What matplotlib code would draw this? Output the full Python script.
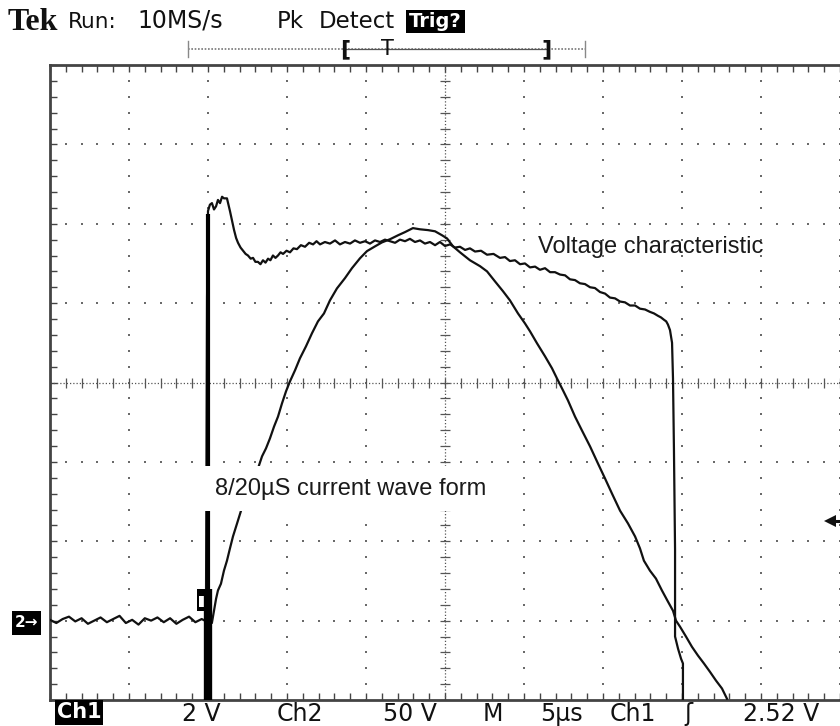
import matplotlib
matplotlib.use('Agg')
import matplotlib.pyplot as plt
import matplotlib.transforms as mtransforms
from matplotlib.patches import Rectangle
from matplotlib.lines import Line2D
import numpy as np

# scope settings: 5 us/div over 10 div, Ch1 2 V/div, Ch2 50 V/div,
# both grounds 3 div below centre
t_lim = (-25.0, 25.0)
ch1_lim = (-2.0, 14.0)
ch2_lim = (-50.0, 350.0)
trig_level = 2.52

# Ch2 - voltage characteristic (V)
volt_t = [-25.0, -24.6, -24.2, -23.8, -23.4, -23.0, -22.6, -22.2, -21.8, -21.4,
          -21.0, -20.6, -20.2, -19.8, -19.4, -19.0, -18.6, -18.2, -17.8, -17.4,
          -17.0, -16.6, -16.2, -15.8, -15.4, -15.2, -15.13, -15.06,
          -15.00, -14.88, -14.75, -14.62, -14.49, -14.37, -14.24, -14.11, -13.99, -13.80,
          -13.61, -13.48, -13.35, -13.22, -13.10, -12.94, -12.78, -12.62, -12.47, -12.30,
          -12.15, -12.00, -11.84, -11.68, -11.52, -11.36, -11.20, -11.05, -10.89, -10.73,
          -10.57, -10.41, -10.25, -10.03, -9.81, -9.59, -9.37, -9.12, -8.86, -8.60,
          -8.35, -8.13, -7.91, -7.60, -7.28, -6.96, -6.65, -6.33, -6.01, -5.70,
          -5.38, -5.06, -4.75, -4.43, -4.11, -3.80, -3.48, -3.16, -2.85, -2.53,
          -2.22, -1.90, -1.58, -1.27, -0.95, -0.63, -0.32, 0.00, 0.32, 0.63,
          0.95, 1.27, 1.58, 1.90, 2.28, 2.66, 3.07, 3.48, 3.80, 4.11,
          4.43, 4.75, 5.06, 5.38, 5.70, 6.01, 6.33, 6.65, 6.96, 7.28,
          7.60, 7.91, 8.23, 8.54, 8.86, 9.18, 9.49, 9.81, 10.13, 10.44,
          10.76, 11.08, 11.39, 11.71, 12.03, 12.34, 12.66, 12.97, 13.23, 13.48,
          13.67, 13.86, 14.00, 14.11, 14.24, 14.37, 14.43, 14.49, 14.56, 14.56,
          14.75, 14.94, 15.06, 15.06]
volt_v = [0.5, -1.5, 1.0, 2.5, -0.5, 1.5, -2.0, 0.0, 2.0, -1.0,
          1.0, 3.0, -1.5, 0.5, -2.5, 1.5, 0.0, 2.0, -1.0, 1.5,
          -2.0, 0.5, 2.5, -1.0, 1.0, 0.0, 0.0, 203,
          258, 262, 263, 259, 261, 265, 263, 267, 266, 266,
          258, 252, 246, 241, 238, 235, 233, 231, 230, 228,
          228.5, 226, 226, 224.5, 227, 225.5, 228, 227, 230, 228.5,
          230, 232, 231, 233, 232, 234.5, 234, 236.5, 235.5, 238,
          237, 239, 237, 238.5, 237.5, 239.5, 237, 238.5, 237.5, 239.5,
          238, 239, 237.5, 239.5, 238.5, 240, 239, 238, 240, 239,
          240.5, 238.5, 239.5, 237.5, 238.5, 236.5, 238.5, 236, 237, 235,
          235.5, 233.5, 234.5, 232.5, 233, 230.5, 231, 228.5, 229, 226.5,
          227, 224.5, 225, 222.5, 223, 221, 222, 219.5, 219.5, 218,
          217.5, 215, 214.5, 212.5, 212, 210, 209.5, 207, 206, 203.5,
          203, 201, 200.5, 198.5, 198.5, 196.5, 196, 194.5, 193.5, 192,
          191, 189.5, 188.5, 186.5, 183, 175, 152.5, 108, 45, -10,
          -17.7, -24, -27, -50]

# Ch1 - 8/20 us current wave (V)
curr_t = [-14.75, -14.62, -14.49, -14.37, -14.18, -13.99, -13.80, -13.61, -13.42, -13.16,
          -12.91, -12.59, -12.22, -11.84, -11.58, -11.33, -11.08, -10.82, -10.57, -10.32,
          -10.06, -9.81, -9.49, -9.18, -8.80, -8.42, -8.04, -7.66, -7.28, -6.84,
          -6.33, -5.89, -5.38, -4.94, -4.43, -3.99, -3.48, -2.97, -2.53, -2.03,
          -1.58, -1.08, -0.63, -0.19, 0.13, 0.51, 0.95, 1.58, 2.22, 2.66,
          3.16, 3.67, 4.11, 4.62, 5.06, 5.38, 5.82, 6.33, 6.77, 7.09,
          7.47, 7.78, 8.23, 8.67, 9.18, 9.68, 10.13, 10.57, 11.08, 11.58,
          12.03, 12.34, 12.59, 12.97, 13.35, 13.73, 14.11, 14.43, 14.62, 14.87,
          15.25, 15.63, 16.01, 16.39, 16.77, 17.15, 17.53, 17.85]
curr_v = [-0.05, 0.25, 0.55, 0.76, 0.93, 1.26, 1.51, 1.82, 2.12, 2.45,
          2.77, 3.08, 3.40, 3.83, 4.14, 4.34, 4.59, 4.89, 5.14, 5.47,
          5.78, 6.03, 6.31, 6.61, 6.91, 7.24, 7.54, 7.74, 8.07, 8.37,
          8.63, 8.88, 9.13, 9.31, 9.43, 9.53, 9.61, 9.71, 9.79, 9.89,
          9.86, 9.84, 9.81, 9.71, 9.63, 9.43, 9.28, 9.08, 8.93, 8.80,
          8.55, 8.30, 8.07, 7.74, 7.49, 7.29, 6.99, 6.66, 6.36, 6.10,
          5.80, 5.55, 5.14, 4.79, 4.39, 3.96, 3.58, 3.20, 2.77, 2.45,
          2.12, 1.82, 1.51, 1.26, 1.06, 0.76, 0.48, 0.25, 0.0, -0.15,
          -0.40, -0.66, -0.88, -1.08, -1.29, -1.51, -1.71, -1.97]

W, H = 840, 726
fig = plt.figure(figsize=(W / 100, H / 100), dpi=100)

def fx(px):
    return px / W

def fy(py):
    return 1 - py / H

rect = [fx(50), 26 / H, 790 / W, 635 / H]
scope_font = 'DejaVu Sans'
ink = '#111111'
dot = '#6a6a6a'

# graticule, in divisions
ax = fig.add_axes(rect)
ax.set_xlim(-5, 5)
ax.set_ylim(-4, 4)
ax.set_xticks(np.arange(-5, 5.01, 1))
ax.set_yticks(np.arange(-4, 4.01, 1))
ax.set_xticks(np.arange(-5, 5.01, 0.2), minor=True)
ax.set_yticks(np.arange(-4, 4.01, 0.2), minor=True)
ax.tick_params(which='both', direction='in', length=5, width=1, color='#444',
               top=True, bottom=True, left=True, right=False,
               labelbottom=False, labelleft=False)
for s in ['top', 'bottom', 'left']:
    ax.spines[s].set_linewidth(2)
    ax.spines[s].set_color('#444')
ax.spines['right'].set_visible(False)

fx_ = np.arange(-5, 5.001, 0.2)
fy_ = np.arange(-4, 4.001, 0.2)
for gx in [-4, -3, -2, -1, 1, 2, 3, 4, 5]:
    ax.plot(np.full(len(fy_), gx), fy_, ls='none', marker='s', ms=1.7,
            mew=0, color=dot)
for gy in [-3, -2, -1, 1, 2, 3]:
    ax.plot(fx_, np.full(len(fx_), gy), ls='none', marker='s', ms=1.7,
            mew=0, color=dot)
ax.plot([-5, 5], [0, 0], color='#555', lw=0.9, ls=(0, (1, 1.6)))
ax.plot([0, 0], [-4, 4], color='#555', lw=0.9, ls=(0, (1, 1.6)))
ax.plot(fx_, np.zeros(len(fx_)), ls='none', marker='|', ms=7, mew=0.9, color='#555')
ax.plot(np.zeros(len(fy_)), fy_, ls='none', marker='_', ms=7, mew=0.9, color='#555')

# channel axes on top of the graticule
ax1 = fig.add_axes(rect, frameon=False)
ax2 = fig.add_axes(rect, frameon=False)
for a in (ax1, ax2):
    a.set_xlim(t_lim)
    a.set_xticks([])
    a.set_yticks([])
ax1.set_ylim(ch1_lim)
ax2.set_ylim(ch2_lim)

ax1.plot(curr_t, curr_v, color=ink, lw=1.6)
ax2.plot(volt_t, volt_v, color=ink, lw=1.6)
# peak-detect edge of the voltage rise
ax2.plot([-15.0, -15.0], [-50, 256], color='black', lw=3.0, solid_capstyle='butt')
ax2.plot([-14.97, -14.97], [-50, 20], color='black', lw=6.0, solid_capstyle='butt')
ax2.add_patch(Rectangle((-15.70, 6.3), 0.95, 13.9, facecolor='black', edgecolor='none'))
ax2.add_patch(Rectangle((-15.57, 8.8), 0.32, 7.0, facecolor='white', edgecolor='none'))

ax2.text(5.89, 231.4, 'Voltage characteristic', family='Liberation Sans',
         fontsize=17, color='#1a1a1a', ha='left', va='baseline', zorder=6)
ax2.text(-14.56, 79.4, '8/20\u00b5S current wave form', family='Liberation Sans',
         fontsize=17, color='#1a1a1a', ha='left', va='baseline', zorder=6,
         bbox=dict(facecolor='white', edgecolor='none', pad=8))

# ground marker for Ch2 and trigger level arrow for Ch1
gtr = mtransforms.blended_transform_factory(fig.transFigure, ax2.transData)
ax2.add_patch(Rectangle((fx(12), -8.8), 29 / W, 15.1, transform=gtr,
                        facecolor='black', edgecolor='none', clip_on=False))
ax2.text(fx(26.5), -1.2, '2\u2192', transform=gtr, color='white', family=scope_font,
         fontsize=11, weight='bold', ha='center', va='center', clip_on=False)
ax1.plot([24.3, 25.0], [trig_level, trig_level], color=ink, lw=2.2, clip_on=False)
ax1.plot([24.35], [trig_level], marker='<', ms=8, color=ink, mew=0, clip_on=False)

# header
fig.text(fx(8), fy(30), 'Tek', family='Liberation Serif', weight='bold',
         fontsize=23, color=ink, va='baseline')
for word, px, fs in [('Run:', 68, 15.5), ('10MS/s', 137, 17), ('Pk', 277, 16.5),
                     ('Detect', 319, 16.5)]:
    fig.text(fx(px), fy(28), word, family=scope_font, fontsize=fs,
             color=ink, va='baseline')
fig.add_artist(Rectangle((fx(406), fy(33)), 59 / W, 23 / H, transform=fig.transFigure,
                         facecolor='black', edgecolor='none'))
fig.text(fx(435.5), fy(21.5), 'Trig?', family=scope_font, fontsize=14, weight='bold',
         color='white', ha='center', va='center')

# record / trigger position bar
fig.add_artist(Line2D([fx(188), fx(585)], [fy(49), fy(49)], color='#777',
                      lw=1.2, ls=(0, (1, 1))))
fig.add_artist(Line2D([fx(345), fx(547)], [fy(49), fy(49)], color='#555', lw=0.9))
for px in (188, 585):
    fig.add_artist(Line2D([fx(px), fx(px)], [fy(41), fy(57)], color='#888', lw=1))
fig.text(fx(345), fy(49), '[', family=scope_font, fontsize=16, weight='bold',
         color=ink, ha='center', va='center')
fig.text(fx(387), fy(49), 'T', family=scope_font, fontsize=15, color=ink,
         ha='center', va='center')
fig.text(fx(547), fy(49), ']', family=scope_font, fontsize=16, weight='bold',
         color=ink, ha='center', va='center')

# status line
fig.add_artist(Rectangle((fx(55), fy(725)), 48 / W, 25 / H, transform=fig.transFigure,
                         facecolor='black', edgecolor='none'))
fig.text(fx(79), fy(712.5), 'Ch1', family=scope_font, fontsize=15, weight='bold',
         color='white', ha='center', va='center')
for word, px in [('2 V', 182), ('Ch2', 277), ('50 V', 383), ('M', 483),
                 ('5\u00b5s', 540), ('Ch1', 610), ('\u0283', 684), ('2.52 V', 743)]:
    fig.text(fx(px), fy(721), word, family=scope_font, fontsize=17,
             color=ink, va='baseline')

fig.savefig('out.png', dpi=100, facecolor='white')
